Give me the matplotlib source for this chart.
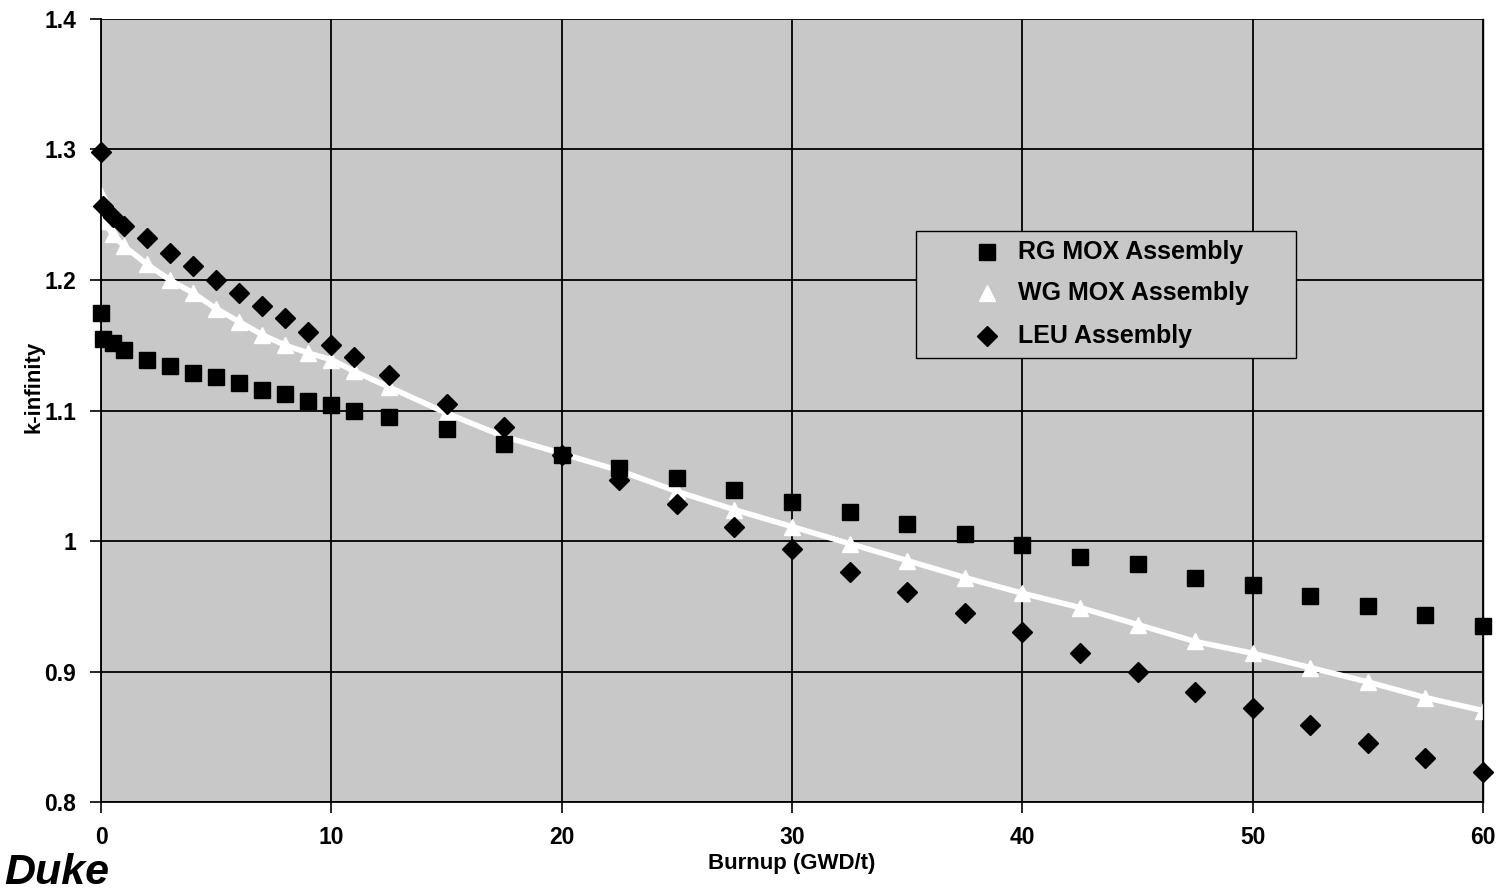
import numpy as np
import matplotlib
matplotlib.use("Agg")
from matplotlib import pyplot as plt
from matplotlib.patches import Rectangle

plt.rcParams['font.family'] = ['Liberation Sans', 'DejaVu Sans']
plt.rcParams['font.weight'] = 'bold'

# burnup points (GWD/t), shared by all three assemblies
burnup = [0, 0.1, 0.5, 1, 2, 3, 4, 5, 6, 7, 8, 9, 10, 11, 12.5, 15, 17.5,
          20, 22.5, 25, 27.5, 30, 32.5, 35, 37.5, 40, 42.5, 45, 47.5, 50,
          52.5, 55, 57.5, 60]

rg_mox = [1.175, 1.155, 1.152, 1.146, 1.139, 1.134, 1.129, 1.126, 1.121,
          1.116, 1.113, 1.107, 1.104, 1.100, 1.095, 1.086, 1.074, 1.066,
          1.056, 1.048, 1.039, 1.030, 1.022, 1.013, 1.005, 0.997, 0.988,
          0.982, 0.972, 0.966, 0.958, 0.950, 0.943, 0.935]

wg_mox = [1.265, 1.245, 1.235, 1.226, 1.212, 1.200, 1.190, 1.178, 1.168,
          1.158, 1.150, 1.144, 1.139, 1.130, 1.118, 1.098, 1.080, 1.067,
          1.054, 1.038, 1.024, 1.011, 0.998, 0.985, 0.972, 0.960, 0.949,
          0.936, 0.923, 0.914, 0.903, 0.892, 0.880, 0.870]

leu = [1.298, 1.257, 1.248, 1.241, 1.232, 1.221, 1.211, 1.200, 1.190,
       1.180, 1.171, 1.160, 1.150, 1.141, 1.127, 1.105, 1.087, 1.066,
       1.047, 1.028, 1.011, 0.994, 0.976, 0.961, 0.945, 0.930, 0.914,
       0.900, 0.884, 0.872, 0.859, 0.845, 0.834, 0.823]

series_names = ['RG MOX Assembly', 'WG MOX Assembly', 'LEU Assembly']

x_ticks = [0, 10, 20, 30, 40, 50, 60]
y_ticks = [0.8, 0.9, 1.0, 1.1, 1.2, 1.3, 1.4]
y_tick_labels = ['0.8', '0.9', '1', '1.1', '1.2', '1.3', '1.4']

bg = '#c8c8c8'

fig = plt.figure(figsize=(15.03, 8.96), dpi=100)
ax = fig.add_axes([0.0672, 0.1049, 0.9195, 0.8739])
ax.set_facecolor(bg)

ax.set_xlim(0, 60)
ax.set_ylim(0.8, 1.4)
ax.set_xticks(x_ticks)
ax.set_yticks(y_ticks)
ax.set_yticklabels(y_tick_labels)
ax.grid(True, color='black', linewidth=1.3)
ax.set_axisbelow(True)

# WG MOX: white band of overlapping markers
ax.plot(burnup, wg_mox, color='white', linewidth=4, zorder=2, clip_on=False)
ax.plot(burnup, wg_mox, linestyle='none', marker='^', markersize=11,
        color='white', markeredgecolor='white', zorder=2, clip_on=False)
ax.plot(burnup, rg_mox, linestyle='none', marker='s', markersize=11,
        color='black', zorder=3, clip_on=False)
ax.plot(burnup, leu, linestyle='none', marker='D', markersize=10,
        color='black', zorder=3, clip_on=False)

ax.spines['top'].set_visible(False)
ax.spines['right'].set_linewidth(1.0)
ax.spines['left'].set_linewidth(1.3)
ax.spines['bottom'].set_linewidth(1.3)

ax.tick_params(axis='both', direction='out', length=8, width=1.2,
               labelsize=16.5)
ax.tick_params(axis='x', pad=9)
ax.tick_params(axis='y', pad=10)
for lab in ax.get_xticklabels() + ax.get_yticklabels():
    lab.set_fontweight('bold')

ax.set_xlabel('Burnup (GWD/t)', fontsize=16, fontweight='bold', labelpad=3)
ax.set_ylabel('k-infinity', fontsize=16, fontweight='bold')
ax.yaxis.set_label_coords(-0.041, 0.53)

# legend box, drawn by hand so the spacing follows the original
ax.add_patch(Rectangle((0.5897, 0.5670), 0.2750, 0.1622,
                       transform=ax.transAxes, facecolor=bg,
                       edgecolor='black', linewidth=1.0, zorder=4))
entry_y = [0.7024, 0.6501, 0.5951]
entry_style = [dict(marker='s', markersize=11, color='black'),
               dict(marker='^', markersize=11, color='white'),
               dict(marker='D', markersize=10, color='black')]
for name, yy, st in zip(series_names, entry_y, entry_style):
    ax.plot([0.6411], [yy], linestyle='none', transform=ax.transAxes,
            zorder=5, clip_on=False, **st)
    ax.text(0.6635, yy, name, transform=ax.transAxes, fontsize=18,
            fontweight='bold', va='center', ha='left', zorder=5)

# logo at the bottom-left
fig.text(0.003, 0.003, 'Duke', fontsize=31, fontweight='bold', style='italic',
         va='bottom', ha='left')

fig.savefig('out.png', dpi=100)
